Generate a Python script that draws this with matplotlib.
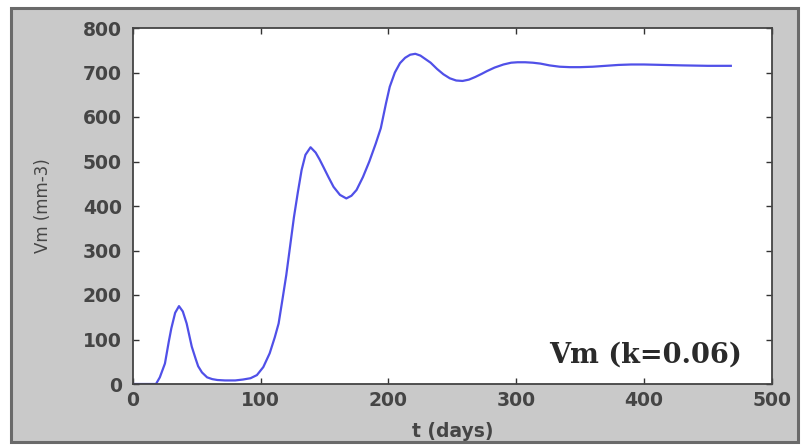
import matplotlib
matplotlib.use("Agg")
import matplotlib.pyplot as plt
from matplotlib.patches import Rectangle

# data
t_days = [0, 10, 18, 21, 25, 28, 30, 33, 36, 39, 42, 44, 46, 49, 51, 54, 58,
          62, 66, 72, 80, 86, 92, 97, 102, 107, 111, 114, 117, 120, 123, 126,
          129, 132, 135, 139, 143, 146, 149, 153, 157, 162, 167, 171, 175, 180,
          185, 190, 194, 198, 201, 205, 209, 213, 217, 221, 225, 229, 233, 238,
          243, 248, 253, 258, 263, 268, 273, 277, 283, 290, 296, 301, 307, 313,
          319, 326, 334, 342, 350, 360, 370, 380, 390, 400, 415, 430, 450, 468]
vm = [0, 0, 0, 15, 46, 95, 125, 160, 175, 163, 136, 110, 84, 57, 40, 26, 15,
      11, 9, 8, 8, 10, 13, 20, 38, 69, 105, 136, 190, 245, 310, 375,
      430, 481, 515, 532, 520, 505, 488, 465, 443, 425, 417, 423, 436, 465,
      500, 540, 575, 630, 668, 700, 721, 733, 740, 742, 738, 730, 722, 708,
      696, 687, 682, 681, 684, 690, 697, 703, 711, 718, 722, 723, 723, 722,
      720, 716, 713, 712, 712, 713, 715, 717, 718, 718, 717, 716, 715, 715]
x_ticks = [0, 100, 200, 300, 400, 500]
y_ticks = [0, 100, 200, 300, 400, 500, 600, 700, 800]
label_text = "Vm (k=0.06)"

W, H = 805, 445
fig = plt.figure(figsize=(W / 100, H / 100), dpi=100, facecolor="white")
panel = Rectangle((11 / W, 3 / H), 787 / W, 434 / H,
                  transform=fig.transFigure, facecolor="#c9c9c9",
                  edgecolor="#6a6a6a", linewidth=2.2, zorder=-10)
fig.add_artist(panel)

ax = fig.add_axes([133 / W, (H - 384) / H, 638.7 / W, 356 / H], zorder=1)
ax.set_facecolor("white")
ax.plot(t_days, vm, color="#5050e8", linewidth=1.6)
ax.set_xlim(0, 500)
ax.set_ylim(0, 800)
ax.set_xticks(x_ticks)
ax.set_yticks(y_ticks)
ax.tick_params(direction="in", length=4, width=1, top=True, right=True,
               colors="#333333", labelsize=13.5)
ax.tick_params(axis="x", pad=5)
ax.tick_params(axis="y", pad=8)
for lab in ax.get_xticklabels() + ax.get_yticklabels():
    lab.set_family("DejaVu Sans")
    lab.set_fontweight("bold")
    lab.set_color("#454545")
for s in ax.spines.values():
    s.set_color("#444444")
    s.set_linewidth(1.3)

ax.set_xlabel("t (days)", family="DejaVu Sans", fontweight="bold",
              fontsize=13.5, color="#454545", labelpad=9)
ax.set_ylabel("Vm (mm-3)", family="DejaVu Sans", fontsize=12,
              color="#454545", labelpad=22)

ax.text(0.953, 0.059, label_text, transform=ax.transAxes, ha="right",
        va="baseline", family="DejaVu Serif", fontweight="bold",
        fontsize=19.5, color="#2a2a2a")

fig.savefig("out.png", dpi=100, facecolor="white")
